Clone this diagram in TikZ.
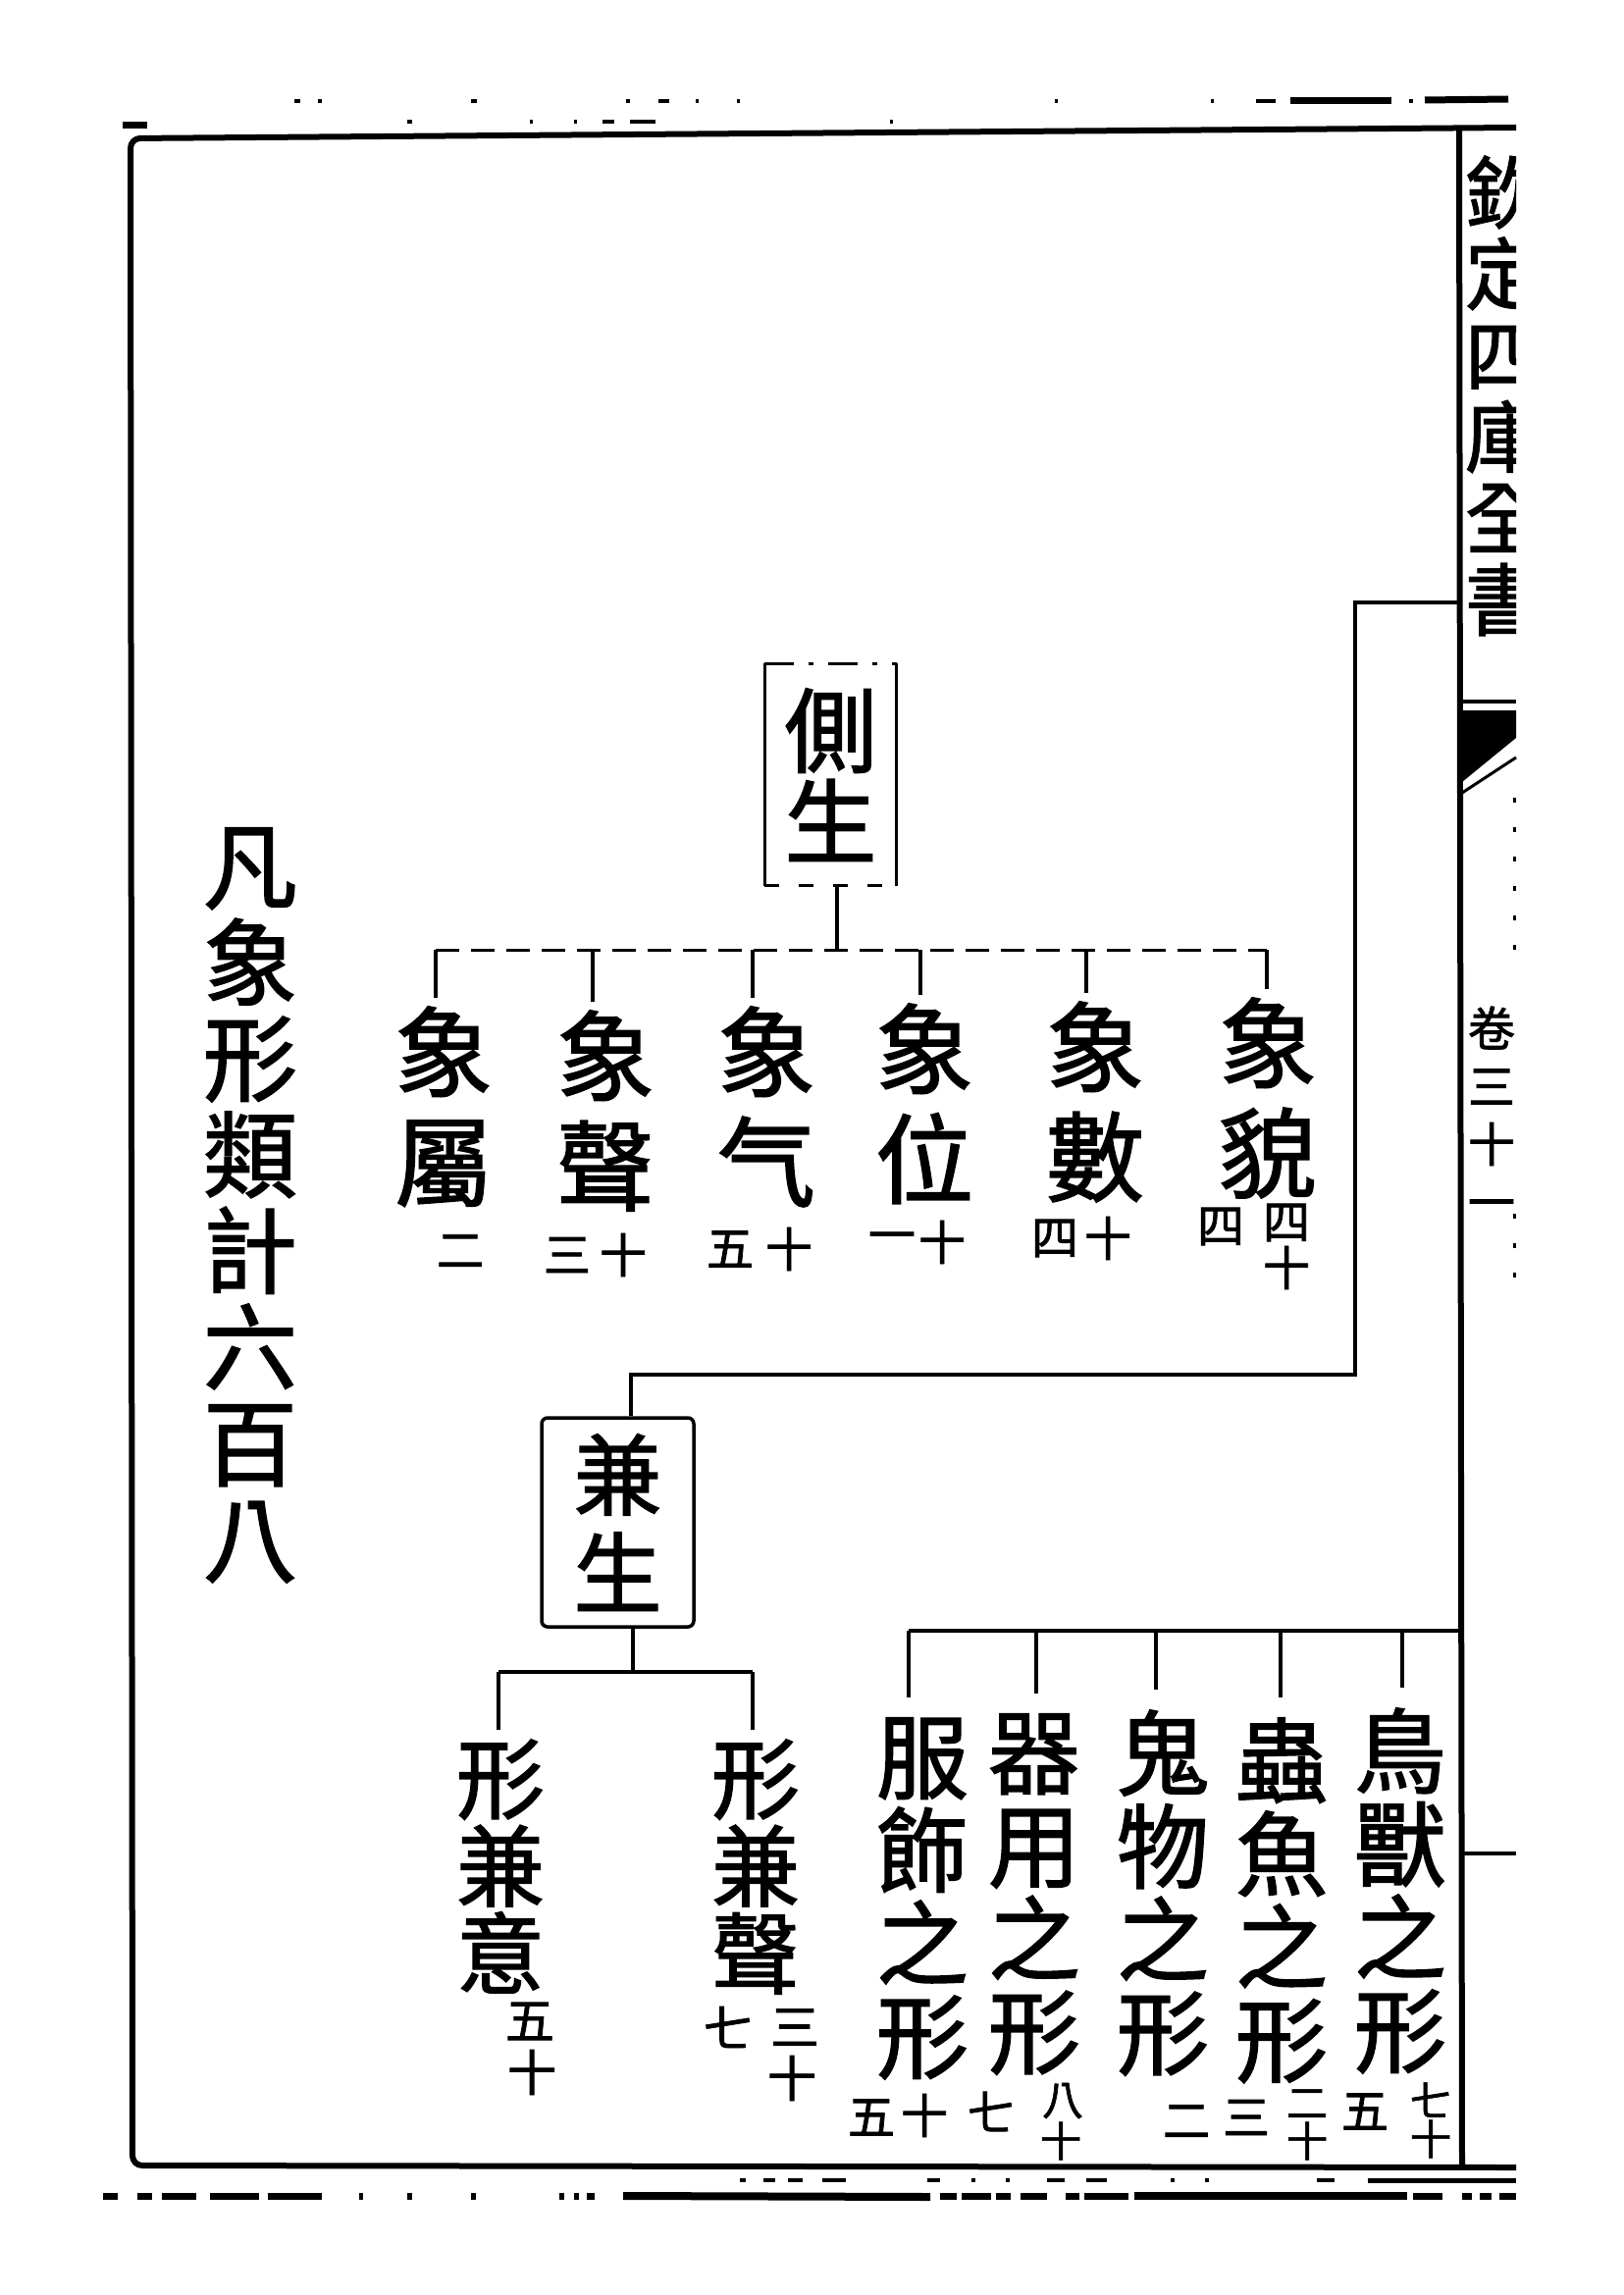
\documentclass[tikz,border=0pt]{standalone}
\usepackage{fontspec}
\newfontfamily\cjk{Noto Sans CJK TC}[FakeBold=1.6]
\begin{document}
\begin{tikzpicture}[x=0.1mm, y=-0.1mm,
  frame/.style={line width=0.6mm, line join=round},
  link/.style={line width=0.35mm},
  dotlink/.style={line width=0.3mm, dash pattern=on 2.4mm off 1.2mm},
  scan/.style={line width=0.35mm},
  scanheavy/.style={line width=0.7mm},
  vcol/.style 2 args={font=\cjk\fontsize{#1}{#2}\selectfont, align=center,
    inner sep=0pt, anchor=north},
  note/.style={font=\cjk\fontsize{4.8mm}{4.8mm}\selectfont, inner sep=0pt},
  tightnote/.style={font=\cjk\fontsize{4.2mm}{4.2mm}\selectfont, inner sep=0pt},
  bignote/.style={font=\cjk\fontsize{5mm}{5mm}\selectfont, inner sep=0pt},
  sidebox/.style={font=\cjk\fontsize{9.4mm}{9.3mm}\selectfont, align=center,
    inner sep=0pt, minimum width=13.3mm, minimum height=22.5mm},
  jointbox/.style={font=\cjk\fontsize{9mm}{10mm}\selectfont, align=center,
    inner sep=0pt, minimum width=15.5mm, minimum height=21.3mm,
    draw, line width=0.35mm, rounded corners=0.6mm}
]
\useasboundingbox (0,0) rectangle (1654,2339);
\fill[white] (0,0) rectangle (1654,2339);

% ---- page frame ----
\draw[frame, rounded corners=1mm] (1545,130) -- (133,141) -- (135,2207) -- (1545,2209);
\draw[frame] (1487,130) -- (1490,2209);

% ---- ruling remnants above and below the frame ----
\foreach \a/\b in {300/306,324/328,480/486,638/642,671/682,709/712,751/754,1075/1078,1234/1237,1280/1300,1436/1440}
  \draw[scan] (\a,103) -- (\b,103);
\draw[scanheavy] (1315,103) -- (1418,103);
\draw[scanheavy] (1452,102) -- (1537,101);
\foreach \a/\b in {415/420,540/543,585/588,614/626,642/668,907/910}
  \draw[scan] (\a,124) -- (\b,124);
\draw[scanheavy] (125,128) -- (150,128);
\foreach \a/\b in {754/760,778/790,803/818,838/862,945/958,990/994,1025/1029,1067/1085,1107/1128,1193/1197,1228/1232,1342/1360}
  \draw[scan] (\a,2222) -- (\b,2222);
\draw[line width=0.5mm] (1394,2222) -- (1545,2222);
\foreach \a/\b in {105/120,140/155,165/200,214/264,273/328,366/370,415/420,480/485,570/575,585/590,598/606,958/975,980/1010,1015/1030,1040/1067,1086/1100,1105/1150,1440/1470,1490/1500,1508/1520,1528/1545}
  \draw[scanheavy] (\a,2238) -- (\b,2238);
\draw[line width=0.8mm] (635,2238) -- (948,2239);
\draw[line width=0.8mm] (1156,2238) -- (1434,2238);

% ---- margin column ----
\begin{scope}
  \clip (1490,100) rectangle (1545,2250);
  \node[vcol={8mm}{8.3mm}] (title) at (1533,158) {欽\\定\\四\\庫\\全\\書};
  \node[vcol={4.8mm}{5.9mm}] (juan) at (1520,1025) {卷\\三\\十\\一};
\end{scope}
\draw[link] (1487,715) -- (1545,715);
\fill (1490,724) -- (1545,724) -- (1545,752) -- (1490,797) -- cycle;
\draw[line width=0.3mm] (1490,808) -- (1545,772);
\draw[line width=0.3mm, dash pattern=on 0.5mm off 2.5mm] (1543,813) -- (1543,985);
\draw[line width=0.3mm, dash pattern=on 0.5mm off 2.5mm] (1543,1237) -- (1543,1306);
\draw[link] (1490,1889) -- (1545,1889);

% ---- summary line ----
\node[vcol={9.6mm}{9.8mm}] (total) at (255,843) {凡\\象\\形\\類\\計\\六\\百\\八};

% ---- side-born group ----
\node[sidebox] (cesheng) at (846.5,789.5) {側\\生};
\draw[link] (cesheng.north west) -- (cesheng.south west);
\draw[link] (cesheng.north east) -- (cesheng.south east);
\draw[link, dash pattern=on 3mm off 1.5mm on 0.5mm off 1.5mm] (cesheng.north west) -- (cesheng.north east);
\draw[link, dash pattern=on 1.5mm off 2mm] (cesheng.south west) -- (cesheng.south east);

\node[vcol={10mm}{11.2mm}] (x1) at (452,1025) {象\\屬};
\node[vcol={10mm}{11.2mm}] (x2) at (617,1029) {象\\聲};
\node[vcol={10mm}{11.2mm}] (x3) at (781,1025) {象\\气};
\node[vcol={10mm}{11.2mm}] (x4) at (942,1022) {象\\位};
\node[vcol={10mm}{11.2mm}] (x5) at (1116,1020) {象\\數};
\node[vcol={10mm}{11.2mm}] (x6) at (1292,1016) {象\\貌};

\node[note] (x1a) at (469,1275) {二};
\node[note] (x2a) at (578,1279) {三};
\node[note] (x2b) at (635,1279) {十};
\node[note] (x3a) at (744,1273) {五};
\node[note] (x3b) at (804,1273) {十};
\node[note] (x4a) at (909,1266) {一};
\node[note] (x4b) at (960,1266) {十};
\node[note] (x5a) at (1075,1262) {四};
\node[note] (x5b) at (1129,1262) {十};
\node[note] (x6a) at (1244,1250) {四};
\node[note] (x6b) at (1311,1246) {四};
\node[note] (x6c) at (1311,1292) {十};

\coordinate (cbus) at (853,968);
\coordinate (c1) at (444,968);
\coordinate (c2) at (604,968);
\coordinate (c3) at (767,968);
\coordinate (c4) at (938,968);
\coordinate (c5) at (1107,968);
\coordinate (c6) at (1291,968);
\draw[link] (cbus |- cesheng.south) -- (cbus);
\draw[dotlink] (c1) -- (c6);
\foreach \i in {1,...,6}
  \draw[link, shorten >=0.8mm] (c\i) -- (c\i |- x\i.north);

% ---- joint-born group ----
\coordinate (m1) at (1487,614);
\coordinate (t2) at (1381,1401);
\coordinate (t3) at (643,1401);
\node[jointbox] (jiansheng) at (629.5,1551.5) {兼\\生};
\draw[link] (m1) -| (t2) -- (t3) -- (t3 |- jiansheng.north);

\node[vcol={9mm}{8.9mm}] (z1) at (510,1772) {形\\兼\\意};
\node[vcol={9mm}{8.9mm}] (z2) at (770,1772) {形\\兼\\聲};
\node[bignote] (z1a) at (540,2060) {五};
\node[bignote] (z1b) at (542,2112) {十};
\node[bignote] (z2a) at (742,2066) {七};
\node[bignote] (z2b) at (810,2066) {三};
\node[bignote] (z2c) at (807,2118) {十};

\coordinate (jbus) at (645,1704);
\coordinate (j1) at (508,1704);
\coordinate (j2) at (767,1704);
\draw[link] (jbus |- jiansheng.south) -- (jbus);
\draw[link] (j1) -- (j2);
\draw[link, shorten >=0.9mm] (j1) -- (j1 |- z1.north);
\draw[link, shorten >=0.9mm] (j2) -- (j2 |- z2.north);

% ---- things-of-form group, hanging from the frame ----
\node[vcol={9.4mm}{9.5mm}] (y1) at (940,1750) {服\\飾\\之\\形};
\node[vcol={9.4mm}{9.5mm}] (y2) at (1054,1746) {器\\用\\之\\形};
\node[vcol={9.4mm}{9.5mm}] (y3) at (1185,1742) {鬼\\物\\之\\形};
\node[vcol={9.4mm}{9.5mm}] (y4) at (1306,1750) {蟲\\魚\\之\\形};
\node[vcol={9.4mm}{9.5mm}] (y5) at (1427,1740) {鳥\\獸\\之\\形};

\node[note] (y1a) at (888,2158) {五};
\node[note] (y1b) at (942,2156) {十};
\node[note] (y2a) at (1010,2152) {七};
\node[tightnote] (y2b) at (1083,2141) {八};
\node[tightnote] (y2c) at (1081,2182) {十};
\node[note] (y3a) at (1209,2162) {二};
\node[note] (y4a) at (1270,2158) {三};
\node[tightnote] (y4b) at (1332,2144) {二};
\node[tightnote] (y4c) at (1332,2182) {十};
\node[note] (y5a) at (1391,2152) {五};
\node[tightnote] (y5b) at (1458,2140) {七};
\node[tightnote] (y5c) at (1458,2180) {十};

\coordinate (rbus) at (1488,1662);
\coordinate (r1) at (926,1662);
\coordinate (r2) at (1056,1662);
\coordinate (r3) at (1178,1662);
\coordinate (r4) at (1305,1662);
\coordinate (r5) at (1429,1662);
\draw[link] (rbus) -- (r1);
\foreach \i in {1,...,5}
  \draw[link, shorten >=2mm] (r\i) -- (r\i |- y\i.north);
\end{tikzpicture}
\end{document}
